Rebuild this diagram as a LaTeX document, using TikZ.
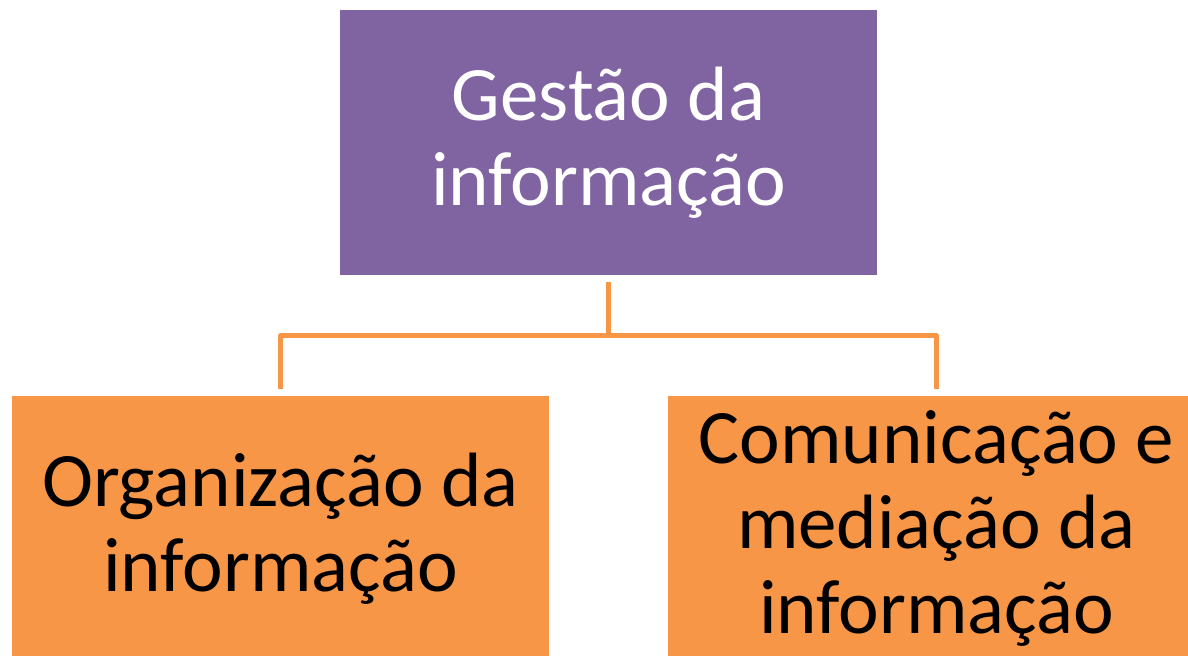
\documentclass[tikz,border=0pt]{standalone}
\usepackage{fontspec}
\setmainfont{Carlito}
\usepackage{tikz}
\usetikzlibrary{positioning}
\definecolor{roxo}{HTML}{8064A2}
\definecolor{laranja}{HTML}{F79646}

\begin{document}
\begin{tikzpicture}
   [x=0.5pt,y=0.5pt,line join=round,
    caixa/.style={minimum width=268.5pt,minimum height=132.5pt,inner sep=0pt,align=center,
                  font=\fontsize{38.5pt}{42.5pt}\selectfont},
    ligacao/.style={draw=laranja,line width=2.25pt,shorten <=3.5pt,shorten >=3pt}]

%frame of the picture (the lower boxes run past it)
  \useasboundingbox (0,0) rectangle (1188,656);
  \clip (0,0) rectangle (1188,656);

%the boxes
  \node[caixa,fill=roxo,text=white] (gestao) at (608.5,513.5) {Gestão da\\informação};
  \node[caixa,fill=laranja,below=60pt of gestao,xshift=-164pt] (organizacao) {Organização da\\informação};
  \node[caixa,fill=laranja,below=60pt of gestao,xshift=164pt] (comunicacao) {Comunicação e\\mediação da\\informação};

%connectors
  \draw[ligacao] (gestao.south) -- ++(0,-60) -| (organizacao.north);
  \draw[ligacao] (gestao.south) -- ++(0,-60) -| (comunicacao.north);

\end{tikzpicture}
\end{document}
